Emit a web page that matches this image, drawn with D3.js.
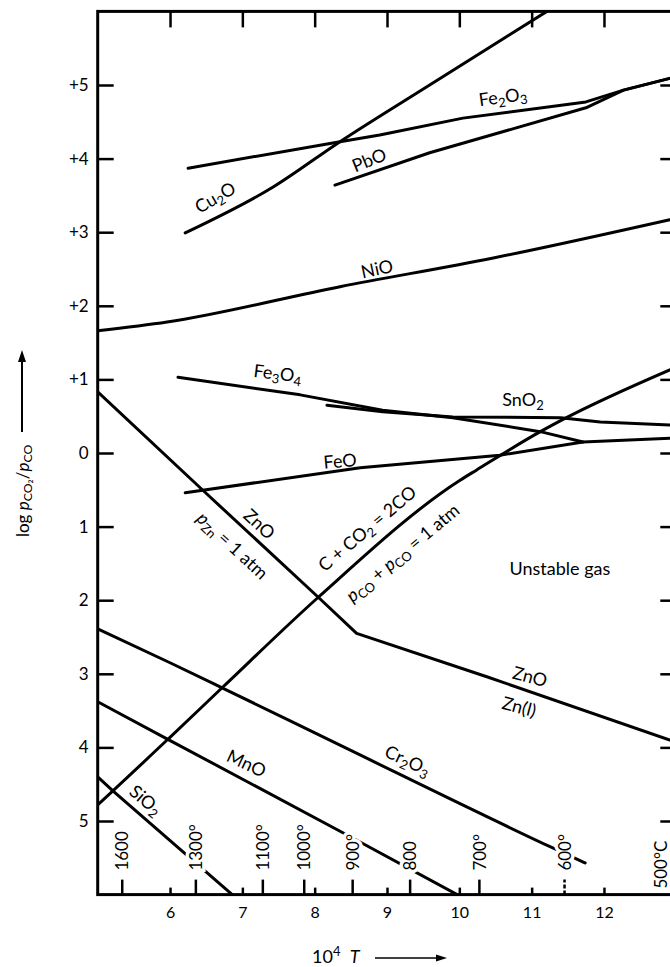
<!DOCTYPE html>
<html>
<head>
<meta charset="utf-8">
<script src="https://cdn.jsdelivr.net/npm/d3@7"></script>
<style>
  body { margin: 0; background: #fff; }
  svg { display: block; font-family: Lato, "DejaVu Sans", sans-serif; }
</style>
</head>
<body>
<svg class="d3-content" width="670" height="967"></svg>
<script>
//data: x = 10^4/T, y = log pCO2/pCO
const cu2o = [[6.21, 2.99], [7.42, 3.61], [8.35, 4.23], [9.59, 5.0], [11.21, 6.0]]
const fe2o3 = [[6.25, 3.87], [8.35, 4.23], [8.9, 4.32], [10.05, 4.55], [11.75, 4.77], [12.27, 4.93], [12.91, 5.09]]
const pbo = [[8.28, 3.64], [9.59, 4.08], [11.75, 4.69], [12.27, 4.93], [12.91, 5.09]]
const nio = [[5.0, 1.66], [5.96, 1.78], [8.35, 2.26], [10.47, 2.65], [12.91, 3.17]]
const fe3o4 = [[6.11, 1.03], [7.8, 0.79], [8.94, 0.58], [9.91, 0.48], [11.12, 0.29], [11.71, 0.15]]
const sno2 = [[8.17, 0.65], [8.94, 0.56], [9.91, 0.49], [11.4, 0.48], [11.95, 0.42], [12.91, 0.38]]
const feo = [[6.21, -0.54], [8.63, -0.2], [10.56, -0.03], [11.71, 0.15], [12.91, 0.2]]
const zno = [[5.0, 0.83], [6.48, -0.53], [8.05, -1.96], [8.58, -2.45], [10.38, -3.04], [12.91, -3.9]]
const boudouard = [[5.0, -4.78], [5.21, -4.59], [5.97, -3.89], [6.72, -3.19], [8.05, -1.96], [10.01, -0.37], [10.24, -0.23], [11.12, 0.29], [11.44, 0.46], [12.91, 1.13]]
const cr2o3 = [[5.0, -2.39], [6.0, -2.85], [6.72, -3.19], [8.35, -3.97], [11.3, -5.37], [11.74, -5.57]]
const mno = [[5.0, -3.38], [5.97, -3.89], [8.39, -5.16], [9.97, -6.0]]
const sio2 = [[5.0, -4.4], [5.21, -4.59], [6.86, -6.0]]

//lines with corners where phases meet, and lines that bend gently
const straightCurves = [fe2o3, pbo, fe3o4, sno2, feo, zno, mno, sio2]
const smoothCurves = [cu2o, nio, boudouard, cr2o3]

const xTicks = [6, 7, 8, 9, 10, 11, 12]
const yTicks = [5, 4, 3, 2, 1, 0, -1, -2, -3, -4, -5]
const yTickLabels = ['+5', '+4', '+3', '+2', '+1', '0', '1', '2', '3', '4', '5']
const tempsC = [1600, 1300, 1100, 1000, 900, 800, 700, 600, 500]
const tempLabels = ['1600', '1300°', '1100°', '1000°', '900°', '800', '700°', '600°', '500°C']

//labels: text, x, y (chart units), angle
const labels = [
    ['Cu_{2}O', 6.62, 3.48, -30],
    ['Fe_{2}O_{3}', 10.6, 4.85, -8],
    ['PbO', 8.75, 3.99, -22],
    ['NiO', 8.86, 2.51, -12],
    ['Fe_{3}O_{4}', 7.49, 1.09, 7],
    ['SnO_{2}', 10.88, 0.73, 0],
    ['FeO', 8.35, -0.1, -5],
    ['ZnO', 7.24, -0.96, 43],
    ['*p*_{Zn} = 1 atm', 6.87, -1.25, 43],
    ['C + CO_{2} = 2CO', 8.72, -1.02, -40],
    ['*p*_{CO} + *p*_{CO} = 1 atm', 9.21, -1.35, -40],
    ['Unstable gas', 11.39, -1.56, 0],
    ['ZnO', 10.98, -3.03, 15],
    ['Zn(l)', 10.83, -3.44, 15],
    ['Cr_{2}O_{3}', 9.29, -4.17, 25],
    ['MnO', 7.06, -4.21, 25],
    ['SiO_{2}', 5.67, -4.71, 40]
]

//dimensions
const w = 670
const h = 967

//scales
const xScale = d3.scaleLinear().domain([5, 13]).range([97.7, 676.3])
const yScale = d3.scaleLinear().domain([-6, 6]).range([894.6, 11.4])

const svg = d3.select('.d3-content')

//text with _{sub}, ^{sup} and *italic*
function richText(sel, str, fs) {
    const parts = str.split(/(_\{[^}]*\}|\^\{[^}]*\}|\*[^*]*\*)/).filter(s => s)
    let shift = 0
    parts.forEach(p => {
        let t = p, target = 0, size = fs, italic = false
        if (p.startsWith('_{')) { t = p.slice(2, -1); target = fs * 0.32; size = fs * 0.72 }
        else if (p.startsWith('^{')) { t = p.slice(2, -1); target = -fs * 0.4; size = fs * 0.72 }
        else if (p.startsWith('*')) { t = p.slice(1, -1); italic = true }
        sel.append('tspan')
            .attr('dy', target - shift)
            .style('font-size', size + 'px')
            .style('font-style', italic ? 'italic' : 'normal')
            .text(t.replace(/ /g, '\u00a0'))
        shift = target
    })
}

//clip
svg.append('defs').append('clipPath').attr('id', 'plot')
    .append('rect')
    .attr('x', xScale(5)).attr('y', yScale(6))
    .attr('width', xScale(13) - xScale(5))
    .attr('height', yScale(-6) - yScale(6))

//lines
const line = d3.line()
    .x(d => xScale(d[0]))
    .y(d => yScale(d[1]))
const smoothLine = d3.line()
    .x(d => xScale(d[0]))
    .y(d => yScale(d[1]))
    .curve(d3.curveMonotoneX)

const curveLayer = svg.append('g').attr('clip-path', 'url(#plot)')

curveLayer.selectAll('path.straight')
    .data(straightCurves)
    .join('path')
    .attr('class', 'straight')
    .attr('d', line)

curveLayer.selectAll('path.smooth')
    .data(smoothCurves)
    .join('path')
    .attr('class', 'smooth')
    .attr('d', smoothLine)

curveLayer.selectAll('path')
    .attr('fill', 'none')
    .attr('stroke', 'black')
    .attr('stroke-width', 3)
    .attr('stroke-linejoin', 'round')
    .attr('stroke-linecap', 'round')

//axes
const axisStyle = g => {
    g.select('.domain').remove()
    g.selectAll('.tick line').attr('stroke', 'black').attr('stroke-width', 2.5)
    g.selectAll('.tick text').attr('fill', 'black')
}

svg.append('g')
    .attr('transform', `translate(${xScale(5)}, 0)`)
    .call(d3.axisLeft(yScale).tickValues(yTicks).tickSize(-16).tickPadding(9)
        .tickFormat((d, i) => yTickLabels[i]))
    .call(axisStyle)
    .style('font-family', 'Lato, sans-serif')
    .style('font-size', '17px')

svg.append('g')
    .attr('transform', `translate(${xScale(13)}, 0)`)
    .call(d3.axisRight(yScale).tickValues(yTicks).tickSize(-16).tickFormat(''))
    .call(axisStyle)

svg.append('g')
    .attr('transform', `translate(0, ${yScale(6)})`)
    .call(d3.axisTop(xScale).tickValues(xTicks).tickSize(-16).tickFormat(''))
    .call(axisStyle)

svg.append('g')
    .attr('transform', `translate(0, ${yScale(-6)})`)
    .call(d3.axisBottom(xScale).tickValues(xTicks).tickSize(-7).tickPadding(12))
    .call(axisStyle)
    .style('font-family', 'Lato, sans-serif')
    .style('font-size', '16px')

//temperature ticks
const tempX = t => xScale(10000 / (t + 273))
svg.append('g')
    .selectAll('line')
    .data(tempsC)
    .join('line')
    .attr('x1', d => tempX(d)).attr('x2', d => tempX(d))
    .attr('y1', yScale(-6)).attr('y2', yScale(-6) - 15)
    .attr('stroke', 'black')
    .attr('stroke-width', 2.5)
    .attr('stroke-dasharray', d => d === 600 ? '4 2' : null)

//temperature labels, white halo breaks the lines behind them
svg.append('g')
    .selectAll('text')
    .data(tempsC)
    .join('text')
    .attr('transform', (d, i) => {
        const last = i === tempsC.length - 1
        const tx = last ? Math.min(tempX(d), 661) : tempX(d)
        const ty = last ? yScale(-6) - 6 : yScale(-6) - 24
        return `translate(${tx}, ${ty}) rotate(-90)`
    })
    .attr('dy', '0.36em')
    .attr('text-anchor', 'start')
    .style('font-size', '17px')
    .attr('stroke', 'white')
    .attr('stroke-width', 7)
    .attr('paint-order', 'stroke')
    .attr('fill', 'black')
    .text((d, i) => tempLabels[i])

//frame
svg.append('rect')
    .attr('x', xScale(5)).attr('y', yScale(6))
    .attr('width', xScale(13) - xScale(5))
    .attr('height', yScale(-6) - yScale(6))
    .attr('fill', 'none')
    .attr('stroke', 'black')
    .attr('stroke-width', 3)

//curve labels
labels.forEach(([txt, lx, ly, ang]) => {
    const t = svg.append('text')
        .attr('transform', `translate(${xScale(lx)}, ${yScale(ly)}) rotate(${ang})`)
        .attr('text-anchor', 'middle')
        .attr('dominant-baseline', 'central')
        .style('font-size', '18px')
    richText(t, txt, 18)
})

//axis titles
const yTitle = svg.append('text')
    .attr('transform', 'translate(22, 537) rotate(-90)')
    .attr('dominant-baseline', 'central')
    .style('font-size', '17px')
richText(yTitle, 'log *p*_{CO₂}/*p*_{CO}', 17)

svg.append('line')
    .attr('x1', 22).attr('x2', 22)
    .attr('y1', 432).attr('y2', 360)
    .attr('stroke', 'black').attr('stroke-width', 2)
svg.append('path')
    .attr('d', 'M22,350 L18,362 L26,362 Z')
    .attr('fill', 'black')

const xTitle = svg.append('text')
    .attr('x', 312).attr('y', 963)
    .style('font-size', '18px')
richText(xTitle, '10^{4}  *T*', 18)

svg.append('line')
    .attr('x1', 375).attr('x2', 440)
    .attr('y1', 958).attr('y2', 958)
    .attr('stroke', 'black').attr('stroke-width', 1.5)
svg.append('path')
    .attr('d', 'M447,958 L436,954.5 L436,961.5 Z')
    .attr('fill', 'black')
</script>
</body>
</html>
